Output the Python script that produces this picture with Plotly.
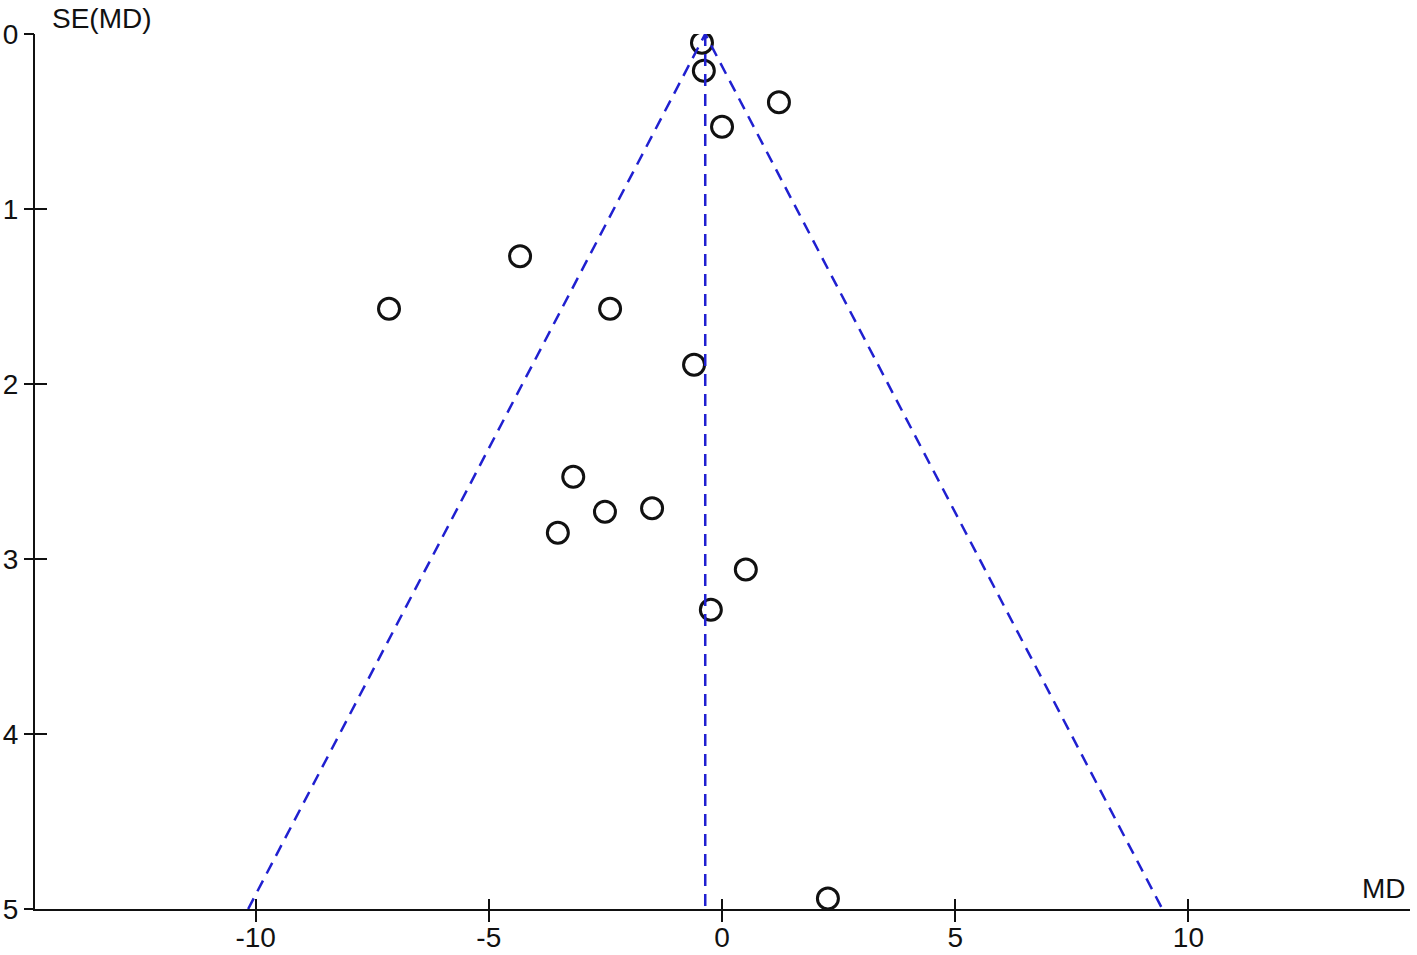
import plotly.graph_objects as go

# Study data
md = [-0.43, -0.39, 1.22, 0.00, -4.33, -7.14, -2.40, -0.60, -3.19, -2.51, -1.50, -3.52, 0.51, -0.24, 2.27]
se = [0.05, 0.21, 0.39, 0.53, 1.27, 1.57, 1.57, 1.89, 2.53, 2.73, 2.71, 2.85, 3.06, 3.29, 4.94]
pooled_md = -0.36
se_max = 5
x_ticks = [-10, -5, 0, 5, 10]
y_ticks = [0, 1, 2, 3, 4, 5]
x_range = [-14.73, 14.75]

blue = "#2020D0"
font = dict(family="Liberation Sans, Arial, sans-serif", size=28, color="#111111")

fig = go.Figure()

fig.add_trace(go.Scatter(
    x=md, y=se, mode="markers",
    marker=dict(symbol="circle-open", size=21, color="#111111", line=dict(width=3, color="#111111")),
    showlegend=False, hoverinfo="x+y"))

# funnel lines (pooled +/- 1.96*SE) and pooled estimate line
fig.add_trace(go.Scatter(
    x=[pooled_md - 1.96 * se_max, pooled_md, pooled_md + 1.96 * se_max],
    y=[se_max, 0, se_max], mode="lines",
    line=dict(color=blue, width=2.5, dash="12px,8px"), showlegend=False, hoverinfo="skip"))
fig.add_trace(go.Scatter(
    x=[pooled_md, pooled_md], y=[0, se_max], mode="lines",
    line=dict(color=blue, width=2.5, dash="12px,8px"), showlegend=False, hoverinfo="skip"))

# invisible traces for the overlay axes (for ticks crossing the axis lines)
fig.add_trace(go.Scatter(x=[pooled_md], y=[0], mode="markers", marker=dict(opacity=0),
                         xaxis="x2", yaxis="y", showlegend=False, hoverinfo="skip"))
fig.add_trace(go.Scatter(x=[pooled_md], y=[0], mode="markers", marker=dict(opacity=0),
                         xaxis="x", yaxis="y2", showlegend=False, hoverinfo="skip"))

common = dict(showgrid=False, zeroline=False, automargin=False, tickwidth=2, tickcolor="#111111")

fig.update_layout(
    width=1417, height=955,
    margin=dict(l=35, r=7, t=34, b=46),
    paper_bgcolor="white", plot_bgcolor="white",
    font=font,
    xaxis=dict(range=x_range, tickvals=x_ticks, ticktext=[str(v) for v in x_ticks],
               ticks="inside", ticklen=10,
               showline=True, linecolor="#111111", linewidth=2,
               tickfont=font, anchor="y", ticklabelstandoff=2, **common),
    yaxis=dict(range=[se_max, 0], tickvals=y_ticks, ticktext=[str(v) for v in y_ticks],
               ticks="inside", ticklen=12,
               showline=True, linecolor="#111111", linewidth=2,
               tickfont=font, anchor="x", ticklabelstandoff=9, **common),
    xaxis2=dict(range=x_range, tickvals=x_ticks, overlaying="x", anchor="y", side="bottom",
                ticks="outside", ticklen=12, showticklabels=False, showline=False, **common),
    yaxis2=dict(range=[se_max, 0], tickvals=y_ticks, overlaying="y", anchor="x", side="left",
                ticks="outside", ticklen=10, showticklabels=False, showline=False, **common),
    annotations=[
        dict(text="SE(MD)", xref="paper", yref="paper", x=0, y=1, xanchor="left",
             yanchor="middle", xshift=15, yshift=16, showarrow=False, font=font),
        dict(text="MD", xref="paper", yref="paper", x=1, y=0, xanchor="right",
             yanchor="middle", xshift=-2, yshift=21, showarrow=False, font=font),
    ],
)

fig.write_html("out.html", config={"displayModeBar": False},
               post_script="document.body.style.margin='0';document.body.style.overflow='hidden';")
